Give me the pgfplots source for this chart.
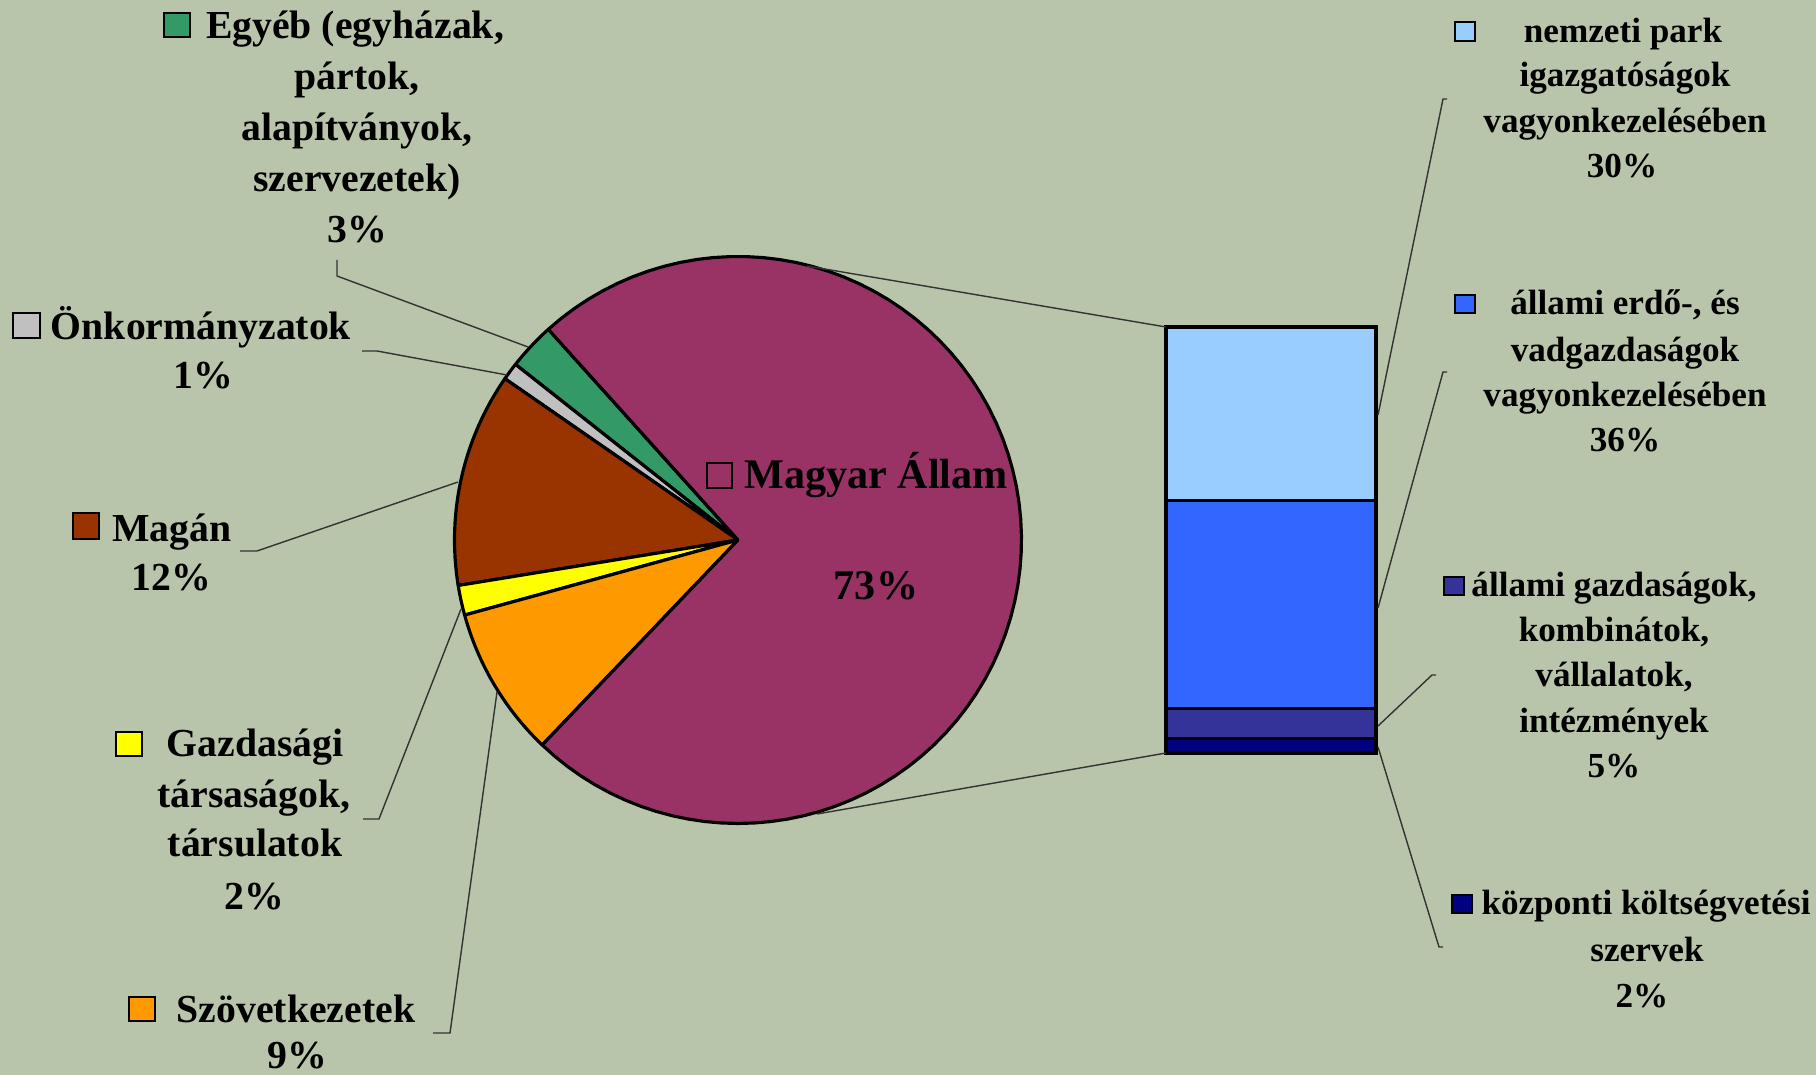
\documentclass[border=0pt]{standalone}
\usepackage{pgfplots}
\pgfplotsset{compat=1.18}
\usepackage{fontspec}
\setmainfont{Liberation Serif}

\definecolor{bg}{RGB}{185,197,170}
\definecolor{cAllam}{HTML}{993366}
\definecolor{cEgyeb}{HTML}{339966}
\definecolor{cOnk}{HTML}{C0C0C0}
\definecolor{cMagan}{HTML}{993300}
\definecolor{cGazd}{HTML}{FFFF00}
\definecolor{cSzov}{HTML}{FF9900}
\definecolor{cPark}{HTML}{99CCFF}
\definecolor{cErdo}{HTML}{3366FF}
\definecolor{cAllGazd}{HTML}{333399}
\definecolor{cKoz}{HTML}{000080}

% one pie slice, share in percent, counter-clockwise from \pa
\newcommand{\slice}[2]{%
  \pgfmathsetmacro\pb{\pa+3.6*#1}%
  \edef\doslice{\noexpand\addplot[draw=black, line width=0.9pt, line join=round,
    fill=#2, domain=\pa:\pb, samples=80, variable=\noexpand\t]
    ({cos(\noexpand\t)},{sin(\noexpand\t)}) -- (axis cs:0,0) -- cycle;}%
  \doslice
  \global\let\pa\pb}

% labels, coordinates in pixels of the 1816x1075 picture (y down)
\newcommand{\Ll}[3]{\node[anchor=base, inner sep=0pt, font=\bfseries\fontsize{11.3}{13}\selectfont] at (axis cs:#1,#2) {#3};}
\newcommand{\Rl}[3]{\node[anchor=base, inner sep=0pt, font=\bfseries\fontsize{10}{12}\selectfont] at (axis cs:#1,#2) {#3};}
\newcommand{\Ml}[3]{\node[anchor=base, inner sep=0pt, font=\bfseries\fontsize{12}{14}\selectfont] at (axis cs:#1,#2) {#3};}
\newcommand{\Key}[5]{\draw[fill=#1, line width=0.8pt] (axis cs:#2,#3) rectangle (axis cs:#4,#5);}
\newcommand{\Lead}[1]{\draw[line width=0.4pt, black!80] #1;}

\begin{document}
\begin{tikzpicture}
\useasboundingbox (0,0) rectangle (18.16cm,10.75cm);
\fill[bg] (0,0) rectangle (18.16cm,10.75cm);

% pie
\begin{axis}[at={(7.38cm,5.35cm)}, anchor=center, width=5.67cm, height=5.67cm,
  scale only axis, xmin=-1, xmax=1, ymin=-1, ymax=1, hide axis, clip=false]
\def\pa{132}
\slice{2.7}{cEgyeb}
\slice{1.0}{cOnk}
\slice{12.2}{cMagan}
\slice{1.7}{cGazd}
\slice{8.6}{cSzov}
\slice{73.8}{cAllam}
\end{axis}

% bar of the state's share
\begin{axis}[at={(11.66cm,3.22cm)}, anchor=south west, width=2.10cm, height=4.26cm,
  scale only axis, xmin=-0.5, xmax=0.5, ymin=0, ymax=73.8,
  ybar stacked, bar width=2.10cm, hide axis, clip=false]
\addplot[fill=cKoz, draw=black, line width=0.9pt] coordinates {(0,2.5)};
\addplot[fill=cAllGazd, draw=black, line width=0.9pt] coordinates {(0,5.2)};
\addplot[fill=cErdo, draw=black, line width=0.9pt] coordinates {(0,36.0)};
\addplot[fill=cPark, draw=black, line width=0.9pt] coordinates {(0,30.1)};
\end{axis}

% labels and leader lines
\begin{axis}[at={(0,0)}, anchor=south west, width=18.16cm, height=10.75cm,
  scale only axis, xmin=0, xmax=1816, ymin=0, ymax=1075, y dir=reverse,
  hide axis, clip=false]
\Lead{(axis cs:807,266) -- (axis cs:1166,327)}
\Lead{(axis cs:817,814) -- (axis cs:1166,753)}

\Lead{(axis cs:337,260) -- (axis cs:337,276) -- (axis cs:528,347)}
\Lead{(axis cs:362,351) -- (axis cs:377,351) -- (axis cs:507,375)}
\Lead{(axis cs:240,551) -- (axis cs:257,551) -- (axis cs:458,482)}
\Lead{(axis cs:363,819) -- (axis cs:379,819) -- (axis cs:461,609)}
\Lead{(axis cs:433,1033) -- (axis cs:450,1033) -- (axis cs:497,692)}
\Lead{(axis cs:1447,99) -- (axis cs:1443,99) -- (axis cs:1378,415)}
\Lead{(axis cs:1447,372) -- (axis cs:1443,372) -- (axis cs:1378,608)}
\Lead{(axis cs:1436,675) -- (axis cs:1432,675) -- (axis cs:1378,726)}
\Lead{(axis cs:1443,947) -- (axis cs:1439,947) -- (axis cs:1378,747)}

\Key{cEgyeb}{164}{13}{190}{37}
\Ll{355}{39}{Egyéb (egyházak,}
\Ll{357}{90}{pártok,}
\Ll{357}{141}{alapítványok,}
\Ll{357}{192}{szervezetek)}
\Ll{357}{243}{3\%}

\Key{cOnk}{13}{313}{40}{338}
\Ll{201}{340}{Önkormányzatok}
\Ll{203}{389}{1\%}

\Key{cMagan}{73}{513}{99}{539}
\Ll{172}{542}{Magán}
\Ll{171}{591}{12\%}

\Key{cGazd}{116}{732}{142}{756}
\Ll{255}{757}{Gazdasági}
\Ll{254}{808}{társaságok,}
\Ll{255}{857}{társulatok}
\Ll{254}{909}{2\%}

\Key{cSzov}{129}{997}{155}{1021}
\Ll{296}{1022}{Szövetkezetek}
\Ll{297}{1068}{9\%}

\Key{cAllam}{707}{463}{732}{488}
\Ml{876}{489}{Magyar Állam}
\Ml{876}{600}{73\%}

\Key{cPark}{1455}{22}{1475}{41}
\Rl{1623}{43}{nemzeti park}
\Rl{1625}{87}{igazgatóságok}
\Rl{1625}{133}{vagyonkezelésében}
\Rl{1622}{178}{30\%}

\Key{cErdo}{1455}{295}{1475}{313}
\Rl{1625}{315}{állami erdő-, és}
\Rl{1625}{362}{vadgazdaságok}
\Rl{1625}{407}{vagyonkezelésében}
\Rl{1625}{452}{36\%}

\Key{cAllGazd}{1444}{577}{1464}{595}
\Rl{1614}{597}{állami gazdaságok,}
\Rl{1614}{642}{kombinátok,}
\Rl{1614}{687}{vállalatok,}
\Rl{1614}{733}{intézmények}
\Rl{1614}{778}{5\%}

\Key{cKoz}{1452}{895}{1472}{913}
\Rl{1646}{915}{központi költségvetési}
\Rl{1647}{962}{szervek}
\Rl{1642}{1007}{2\%}
\end{axis}
\end{tikzpicture}
\end{document}
